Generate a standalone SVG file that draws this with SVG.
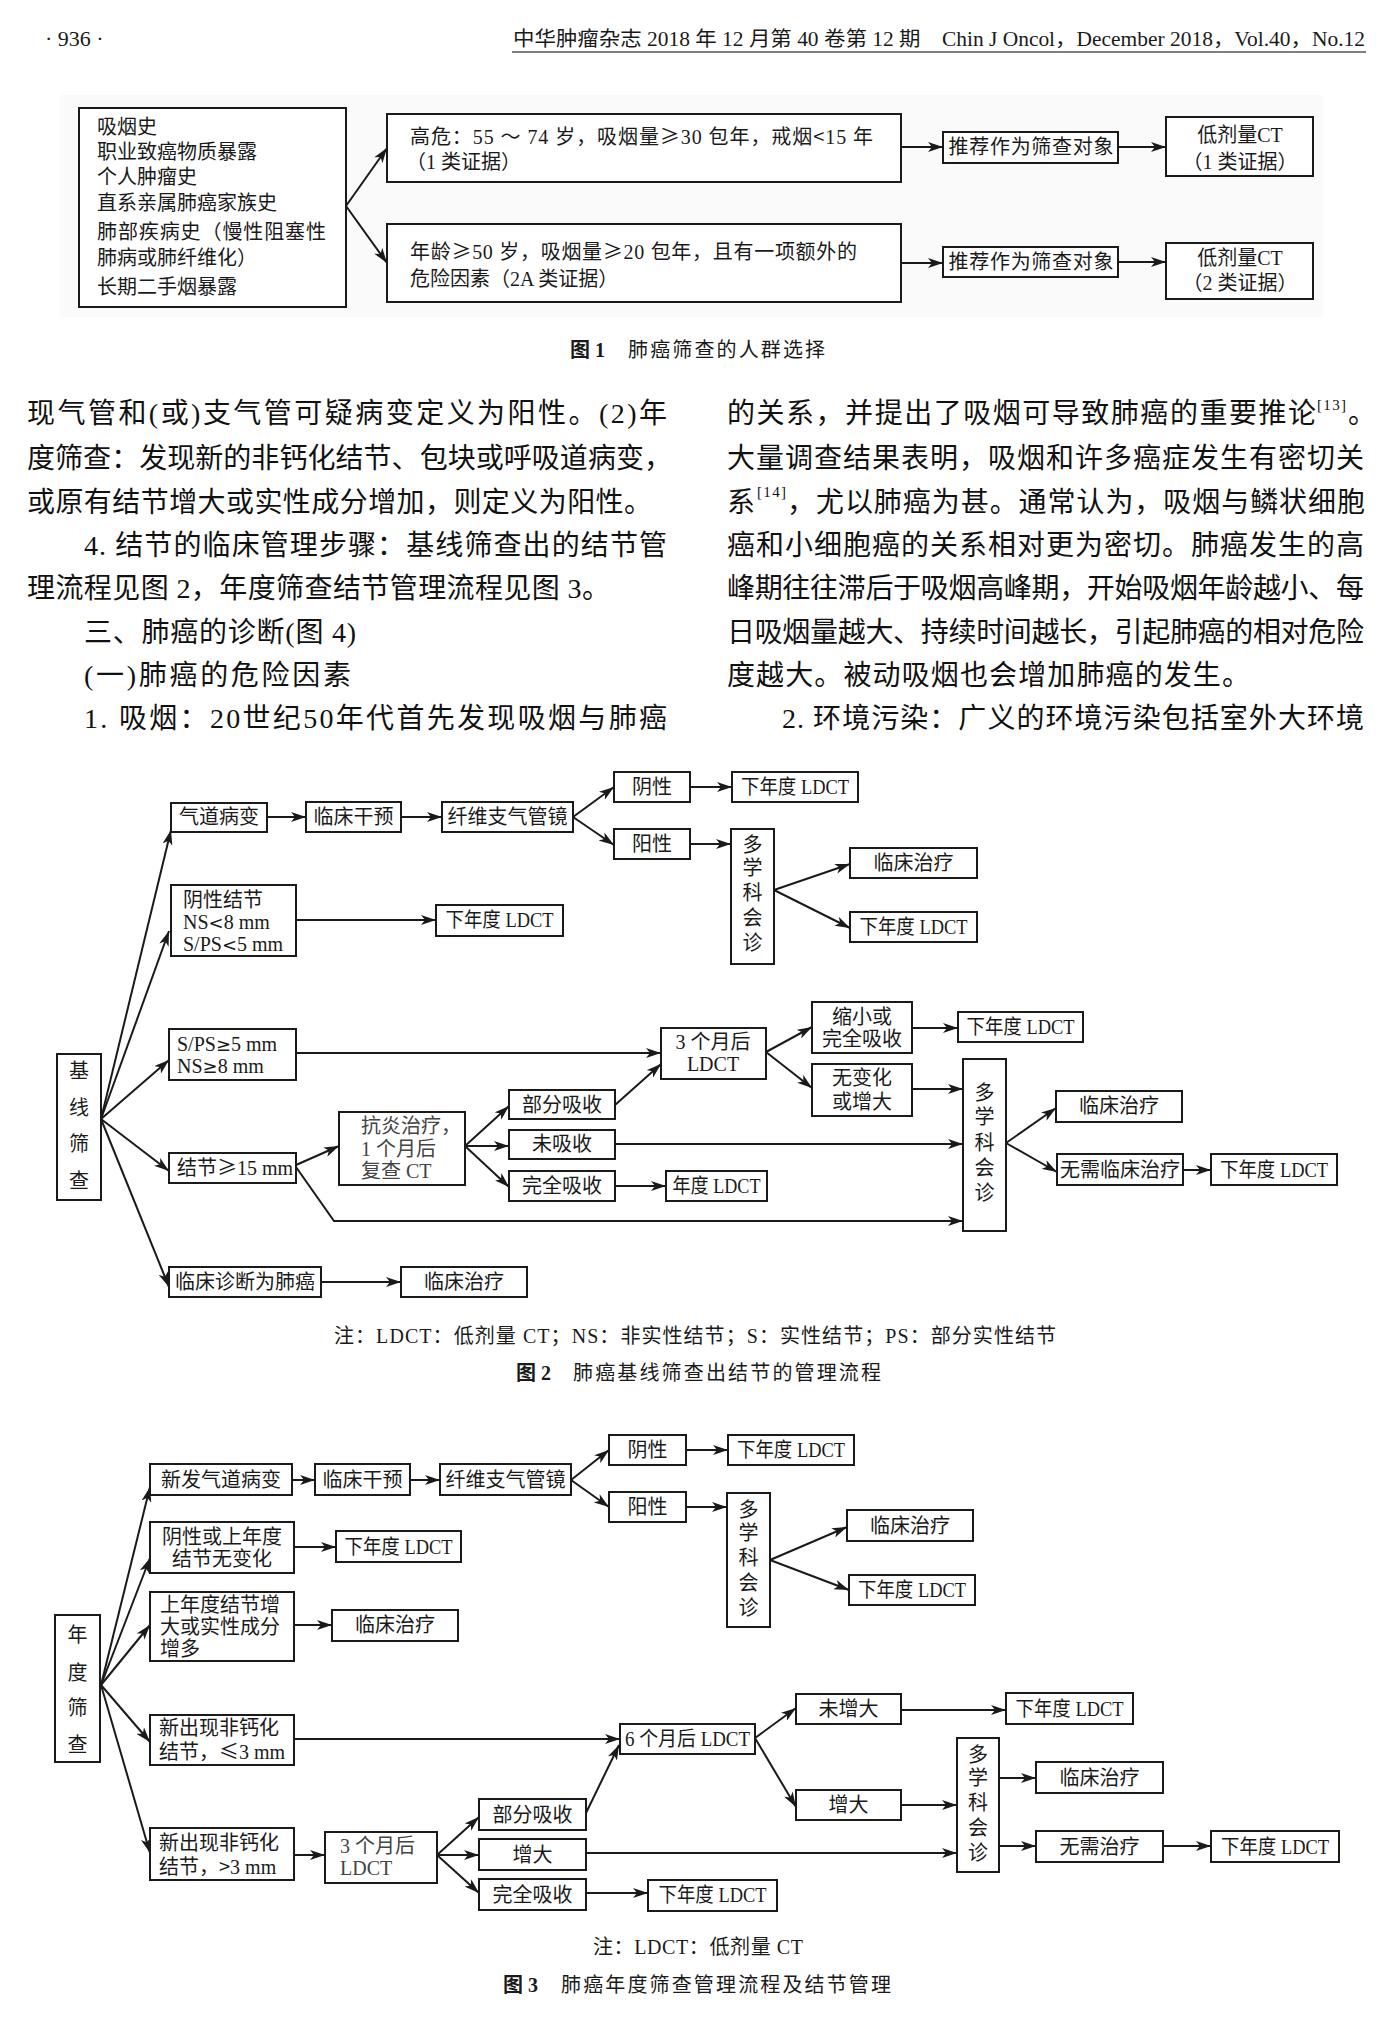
<svg xmlns="http://www.w3.org/2000/svg" width="1394" height="2032" viewBox="0 0 1394 2032">
<defs>
<marker id="ah" markerUnits="userSpaceOnUse" markerWidth="16" markerHeight="10" refX="15" refY="5" orient="auto"><path d="M0,0 L15,5 L0,10 L4,5 Z" fill="#1a1a1a"/></marker>
</defs>
<style>
.bx{fill:#fff;stroke:#1a1a1a;stroke-width:2}
.c{fill:none;stroke:#1a1a1a;stroke-width:2;marker-end:url(#ah)}
.t{font-family:'Liberation Serif','Noto Sans CJK SC',serif;font-size:20px;fill:#1a1a1a}
.cj{font-family:'Noto Sans CJK SC',sans-serif}
.sy{font-family:'DejaVu Sans',sans-serif;font-size:18px}
.m{text-anchor:middle}
.g{fill:#444}
.bd{font-family:'Liberation Serif','Noto Sans CJK SC',serif;font-size:28px;fill:#111}
.sup{font-family:'Liberation Serif','Noto Sans CJK SC',serif;font-size:15px;fill:#111}
.bold{font-weight:bold}
</style>
<rect width="1394" height="2032" fill="#fff"/>

<g id="header">
<text class="t" x="45" y="46" style="font-size:22px">· 936 ·</text>
<text class="t" x="513" y="46" textLength="852" lengthAdjust="spacingAndGlyphs">中华肿瘤杂志 2018 年 12 月第 40 卷第 12 期　Chin J Oncol，December 2018，Vol.40，No.12</text>
<line x1="512" y1="52" x2="1366" y2="52" stroke="#555" stroke-width="1.5"/>
</g>

<rect x="60" y="95" width="1263" height="222" fill="#fafafa"/>

<g id="fig1">
<g id="f1_risk"><rect class="bx" x="79" y="108" width="267" height="199"/>
<text class="t" x="97" y="134">吸烟史</text>
<text class="t" x="97" y="159">职业致癌物质暴露</text>
<text class="t" x="97" y="184">个人肿瘤史</text>
<text class="t" x="97" y="210">直系亲属肺癌家族史</text>
<text class="t" x="97" y="239" textLength="229">肺部疾病史（慢性阻塞性</text>
<text class="t" x="97" y="265">肺病或肺纤维化）</text>
<text class="t" x="97" y="294">长期二手烟暴露</text></g>
<g id="f1_high"><rect class="bx" x="387" y="114" width="514" height="68"/>
<text class="t" x="410" y="144" textLength="463">高危：55 ～ 74 岁，吸烟量<tspan class="cj">≥</tspan>30 包年，戒烟<tspan class="cj">&lt;</tspan>15 年</text>
<text class="t" x="406" y="169">（1 类证据）</text></g>
<g id="f1_mid"><rect class="bx" x="387" y="224" width="514" height="78"/>
<text class="t" x="410" y="259" textLength="447">年龄<tspan class="cj">≥</tspan>50 岁，吸烟量<tspan class="cj">≥</tspan>20 包年，且有一项额外的</text>
<text class="t" x="410" y="286">危险因素（2A 类证据）</text></g>
<g id="f1_rec1"><rect class="bx" x="943" y="132" width="175" height="31"/>
<text class="t m" x="1031" y="154" textLength="165">推荐作为筛查对象</text></g>
<g id="f1_rec2"><rect class="bx" x="943" y="247" width="175" height="30"/>
<text class="t m" x="1031" y="269" textLength="165">推荐作为筛查对象</text></g>
<g id="f1_ct1"><rect class="bx" x="1166" y="117" width="147" height="59"/>
<text class="t m" x="1240" y="142">低剂量CT</text>
<text class="t m" x="1240" y="169">（1 类证据）</text></g>
<g id="f1_ct2"><rect class="bx" x="1166" y="243" width="147" height="56"/>
<text class="t m" x="1240" y="265">低剂量CT</text>
<text class="t m" x="1240" y="290">（2 类证据）</text></g>
<g id="f1_conn">
<path class="c" d="M346,206 L387,148"/>
<path class="c" d="M346,206 L387,263"/>
<path class="c" d="M901,147 L943,147"/>
<path class="c" d="M1118,147 L1166,147"/>
<path class="c" d="M901,263 L943,263"/>
<path class="c" d="M1118,262 L1166,262"/>
</g>
<text class="t" x="570" y="357"><tspan class="bold">图 1</tspan></text>
<text class="t" x="628" y="357" textLength="197">肺癌筛查的人群选择</text>
</g>

<g id="bodytext">
<text class="bd" x="27" y="423" textLength="640">现气管和(或)支气管可疑病变定义为阳性。(2)年</text>
<text class="bd" x="27" y="468" textLength="645">度筛查：发现新的非钙化结节、包块或呼吸道病变，</text>
<text class="bd" x="27" y="512" textLength="625">或原有结节增大或实性成分增加，则定义为阳性。</text>
<text class="bd" x="84" y="555" textLength="583">4. 结节的临床管理步骤：基线筛查出的结节管</text>
<text class="bd" x="27" y="598" textLength="583">理流程见图 2，年度筛查结节管理流程见图 3。</text>
<text class="bd" x="84" y="642" textLength="272">三、肺癌的诊断(图 4)</text>
<text class="bd" x="84" y="685" textLength="267">(一)肺癌的危险因素</text>
<text class="bd" x="84" y="728" textLength="583">1. 吸烟：20世纪50年代首先发现吸烟与肺癌</text>

<text class="bd" x="727" y="423" textLength="589">的关系，并提出了吸烟可导致肺癌的重要推论</text>
<text class="sup" x="1317" y="410" textLength="29">[13]</text>
<text class="bd" x="1348" y="423">。</text>
<text class="bd" x="727" y="468" textLength="637">大量调查结果表明，吸烟和许多癌症发生有密切关</text>
<text class="bd" x="727" y="512">系</text>
<text class="sup" x="757" y="497" textLength="29">[14]</text>
<text class="bd" x="787" y="512" textLength="578">，尤以肺癌为甚。通常认为，吸烟与鳞状细胞</text>
<text class="bd" x="727" y="555" textLength="637">癌和小细胞癌的关系相对更为密切。肺癌发生的高</text>
<text class="bd" x="727" y="598" textLength="637">峰期往往滞后于吸烟高峰期，开始吸烟年龄越小、每</text>
<text class="bd" x="727" y="642" textLength="637">日吸烟量越大、持续时间越长，引起肺癌的相对危险</text>
<text class="bd" x="727" y="685" textLength="523">度越大。被动吸烟也会增加肺癌的发生。</text>
<text class="bd" x="782" y="728" textLength="582">2. 环境污染：广义的环境污染包括室外大环境</text>
</g>

<g id="fig2">
<g id="f2_conn">
<path class="c" d="M101,1119 L171,830"/>
<path class="c" d="M101,1119 L169,931"/>
<path class="c" d="M101,1119 L169,1060"/>
<path class="c" d="M101,1119 L169,1171"/>
<path class="c" d="M101,1119 L169,1287"/>
<path class="c" d="M267,817 L306,817"/>
<path class="c" d="M401,817 L442,817"/>
<path class="c" d="M573,817 L614,787"/>
<path class="c" d="M573,817 L614,845"/>
<path class="c" d="M690,787 L732,787"/>
<path class="c" d="M690,844 L731,844"/>
<path class="c" d="M774,890 L850,864"/>
<path class="c" d="M774,890 L850,928"/>
<path class="c" d="M296,920 L436,920"/>
<path class="c" d="M296,1053 L661,1053"/>
<path class="c" d="M296,1165 L339,1146"/>
<path class="c" d="M296,1167 L334,1221 L963,1221"/>
<path class="c" d="M465,1146 L509,1106"/>
<path class="c" d="M465,1146 L509,1146"/>
<path class="c" d="M465,1146 L509,1187"/>
<path class="c" d="M615,1105 L661,1064"/>
<path class="c" d="M615,1144 L963,1144"/>
<path class="c" d="M615,1186 L666,1186"/>
<path class="c" d="M766,1052 L812,1027"/>
<path class="c" d="M766,1052 L812,1088"/>
<path class="c" d="M912,1028 L958,1028"/>
<path class="c" d="M912,1089 L963,1089"/>
<path class="c" d="M1006,1143 L1056,1108"/>
<path class="c" d="M1006,1143 L1057,1172"/>
<path class="c" d="M1183,1170 L1211,1170"/>
<path class="c" d="M321,1282 L401,1282"/>
</g>
<g id="f2_base"><rect class="bx" x="57" y="1054" width="44" height="146"/>
<text class="t m"><tspan x="79" y="1078">基</tspan><tspan x="79" y="1115">线</tspan><tspan x="79" y="1151">筛</tspan><tspan x="79" y="1188">查</tspan></text></g>
<g id="f2_airway"><rect class="bx" x="171" y="803" width="96" height="29"/><text class="t m" x="219" y="824">气道病变</text></g>
<g id="f2_interv"><rect class="bx" x="306" y="802" width="95" height="30"/><text class="t m" x="353.5" y="824">临床干预</text></g>
<g id="f2_bronch"><rect class="bx" x="442" y="802" width="131" height="30"/><text class="t m" x="507.5" y="824">纤维支气管镜</text></g>
<g id="f2_neg"><rect class="bx" x="614" y="772" width="76" height="30"/><text class="t m" x="652" y="794">阴性</text></g>
<g id="f2_ldct0"><rect class="bx" x="732" y="772" width="126" height="30"/><text class="t m" x="795" y="794" textLength="108" lengthAdjust="spacingAndGlyphs">下年度 LDCT</text></g>
<g id="f2_pos"><rect class="bx" x="614" y="829" width="76" height="30"/><text class="t m" x="652" y="851">阳性</text></g>
<g id="f2_mdt1"><rect class="bx" x="731" y="829" width="43" height="135"/>
<text class="t m"><tspan x="752.5" y="852">多</tspan><tspan x="752.5" y="875">学</tspan><tspan x="752.5" y="900">科</tspan><tspan x="752.5" y="925">会</tspan><tspan x="752.5" y="950">诊</tspan></text></g>
<g id="f2_treat0"><rect class="bx" x="850" y="848" width="127" height="30"/><text class="t m" x="913.5" y="870">临床治疗</text></g>
<g id="f2_ldct00"><rect class="bx" x="850" y="912" width="127" height="30"/><text class="t m" x="913.5" y="934" textLength="108" lengthAdjust="spacingAndGlyphs">下年度 LDCT</text></g>
<g id="f2_negnod"><rect class="bx" x="171" y="885" width="125" height="71"/>
<text class="t" x="183" y="907">阴性结节</text>
<text class="t" x="183" y="929">NS<tspan class="sy">&lt;</tspan>8 mm</text>
<text class="t" x="183" y="951">S/PS<tspan class="sy">&lt;</tspan>5 mm</text></g>
<g id="f2_ldct1"><rect class="bx" x="436" y="905" width="127" height="31"/><text class="t m" x="499.5" y="927" textLength="108" lengthAdjust="spacingAndGlyphs">下年度 LDCT</text></g>
<g id="f2_sps"><rect class="bx" x="169" y="1029" width="127" height="51"/>
<text class="t" x="177" y="1051">S/PS<tspan class="sy">≥</tspan>5 mm</text>
<text class="t" x="177" y="1073">NS<tspan class="sy">≥</tspan>8 mm</text></g>
<g id="f2_3m"><rect class="bx" x="661" y="1028" width="105" height="51"/>
<text class="t m" x="713" y="1049">3 个月后</text>
<text class="t m" x="713" y="1071">LDCT</text></g>
<g id="f2_shrink"><rect class="bx" x="812" y="1002" width="100" height="51"/>
<text class="t m" x="862" y="1024">缩小或</text>
<text class="t m" x="862" y="1046">完全吸收</text></g>
<g id="f2_ldct2"><rect class="bx" x="958" y="1012" width="125" height="30"/><text class="t m" x="1020.5" y="1034" textLength="108" lengthAdjust="spacingAndGlyphs">下年度 LDCT</text></g>
<g id="f2_nochg"><rect class="bx" x="812" y="1064" width="100" height="52"/>
<text class="t m" x="862" y="1085">无变化</text>
<text class="t m" x="862" y="1109">或增大</text></g>
<g id="f2_n15"><rect class="bx" x="169" y="1153" width="127" height="30"/><text class="t" x="177" y="1175">结节<tspan class="cj">≥</tspan>15 mm</text></g>
<g id="f2_anti"><rect class="bx" x="339" y="1112" width="126" height="73"/>
<text class="t g" x="361" y="1133">抗炎治疗，</text>
<text class="t g" x="361" y="1156">1 个月后</text>
<text class="t g" x="361" y="1178">复查 CT</text></g>
<g id="f2_part"><rect class="bx" x="509" y="1090" width="106" height="29"/><text class="t m" x="562" y="1112">部分吸收</text></g>
<g id="f2_none"><rect class="bx" x="509" y="1130" width="106" height="29"/><text class="t m" x="562" y="1151">未吸收</text></g>
<g id="f2_full"><rect class="bx" x="509" y="1171" width="106" height="30"/><text class="t m" x="562" y="1193">完全吸收</text></g>
<g id="f2_yldct"><rect class="bx" x="666" y="1171" width="101" height="30"/><text class="t m" x="716.5" y="1193" textLength="88" lengthAdjust="spacingAndGlyphs">年度 LDCT</text></g>
<g id="f2_mdt2"><rect class="bx" x="963" y="1059" width="43" height="172"/>
<text class="t m"><tspan x="984.5" y="1100">多</tspan><tspan x="984.5" y="1124">学</tspan><tspan x="984.5" y="1150">科</tspan><tspan x="984.5" y="1175">会</tspan><tspan x="984.5" y="1200">诊</tspan></text></g>
<g id="f2_treat2"><rect class="bx" x="1056" y="1091" width="126" height="31"/><text class="t m" x="1119" y="1113">临床治疗</text></g>
<g id="f2_notreat"><rect class="bx" x="1057" y="1154" width="126" height="31"/><text class="t m" x="1120" y="1177">无需临床治疗</text></g>
<g id="f2_ldct3"><rect class="bx" x="1211" y="1154" width="126" height="31"/><text class="t m" x="1274" y="1177" textLength="108" lengthAdjust="spacingAndGlyphs">下年度 LDCT</text></g>
<g id="f2_dx"><rect class="bx" x="169" y="1267" width="152" height="30"/><text class="t m" x="245" y="1289">临床诊断为肺癌</text></g>
<g id="f2_treat1"><rect class="bx" x="401" y="1267" width="126" height="30"/><text class="t m" x="464" y="1289">临床治疗</text></g>
<text class="t" x="334" y="1343" textLength="722">注：LDCT：低剂量 CT；NS：非实性结节；S：实性结节；PS：部分实性结节</text>
<text class="t bold" x="516" y="1380">图 2</text>
<text class="t" x="573" y="1380" textLength="308">肺癌基线筛查出结节的管理流程</text>
</g>

<g id="fig3">
<g id="f3_conn">
<path class="c" d="M101,1685 L150,1487"/>
<path class="c" d="M101,1685 L150,1558"/>
<path class="c" d="M101,1685 L150,1625"/>
<path class="c" d="M101,1685 L150,1742"/>
<path class="c" d="M101,1685 L150,1853"/>
<path class="c" d="M292,1480 L315,1480"/>
<path class="c" d="M410,1480 L440,1480"/>
<path class="c" d="M571,1480 L609,1450"/>
<path class="c" d="M571,1480 L609,1507"/>
<path class="c" d="M686,1450 L728,1450"/>
<path class="c" d="M686,1507 L727,1507"/>
<path class="c" d="M770,1560 L847,1527"/>
<path class="c" d="M770,1560 L849,1590"/>
<path class="c" d="M294,1547 L336,1547"/>
<path class="c" d="M294,1625 L332,1625"/>
<path class="c" d="M294,1739 L620,1739"/>
<path class="c" d="M294,1855 L325,1855"/>
<path class="c" d="M437,1855 L479,1817"/>
<path class="c" d="M437,1855 L479,1855"/>
<path class="c" d="M437,1855 L479,1893"/>
<path class="c" d="M586,1813 L619,1745"/>
<path class="c" d="M755,1738 L796,1708"/>
<path class="c" d="M755,1738 L796,1807"/>
<path class="c" d="M901,1710 L1006,1710"/>
<path class="c" d="M901,1805 L957,1805"/>
<path class="c" d="M586,1853 L957,1853"/>
<path class="c" d="M586,1893 L648,1893"/>
<path class="c" d="M999,1778 L1036,1778"/>
<path class="c" d="M999,1846 L1036,1846"/>
<path class="c" d="M1163,1846 L1211,1846"/>
</g>
<g id="f3_base"><rect class="bx" x="55" y="1615" width="45" height="147"/>
<text class="t m"><tspan x="77.5" y="1642">年</tspan><tspan x="77.5" y="1680">度</tspan><tspan x="77.5" y="1715">筛</tspan><tspan x="77.5" y="1752">查</tspan></text></g>
<g id="f3_airway"><rect class="bx" x="150" y="1464" width="142" height="31"/><text class="t m" x="221" y="1487">新发气道病变</text></g>
<g id="f3_interv"><rect class="bx" x="315" y="1464" width="95" height="31"/><text class="t m" x="362.5" y="1487">临床干预</text></g>
<g id="f3_bronch"><rect class="bx" x="440" y="1464" width="131" height="31"/><text class="t m" x="505.5" y="1487">纤维支气管镜</text></g>
<g id="f3_neg"><rect class="bx" x="609" y="1435" width="77" height="30"/><text class="t m" x="647.5" y="1457">阴性</text></g>
<g id="f3_ldct0"><rect class="bx" x="728" y="1435" width="126" height="30"/><text class="t m" x="791" y="1457" textLength="108" lengthAdjust="spacingAndGlyphs">下年度 LDCT</text></g>
<g id="f3_pos"><rect class="bx" x="609" y="1492" width="77" height="30"/><text class="t m" x="647.5" y="1514">阳性</text></g>
<g id="f3_mdt1"><rect class="bx" x="727" y="1493" width="43" height="134"/>
<text class="t m"><tspan x="748.5" y="1517">多</tspan><tspan x="748.5" y="1540">学</tspan><tspan x="748.5" y="1565">科</tspan><tspan x="748.5" y="1590">会</tspan><tspan x="748.5" y="1615">诊</tspan></text></g>
<g id="f3_treat0"><rect class="bx" x="847" y="1510" width="126" height="31"/><text class="t m" x="910" y="1533">临床治疗</text></g>
<g id="f3_ldct00"><rect class="bx" x="849" y="1575" width="126" height="30"/><text class="t m" x="912" y="1597" textLength="108" lengthAdjust="spacingAndGlyphs">下年度 LDCT</text></g>
<g id="f3_negprev"><rect class="bx" x="150" y="1522" width="144" height="51"/>
<text class="t m" x="222" y="1544">阴性或上年度</text>
<text class="t m" x="222" y="1566">结节无变化</text></g>
<g id="f3_ldct1"><rect class="bx" x="336" y="1531" width="125" height="31"/><text class="t m" x="398.5" y="1554" textLength="108" lengthAdjust="spacingAndGlyphs">下年度 LDCT</text></g>
<g id="f3_grow"><rect class="bx" x="150" y="1592" width="144" height="69"/>
<text class="t" x="160" y="1612">上年度结节增</text>
<text class="t" x="160" y="1634">大或实性成分</text>
<text class="t" x="160" y="1656">增多</text></g>
<g id="f3_treat1"><rect class="bx" x="332" y="1610" width="126" height="31"/><text class="t m" x="395" y="1632">临床治疗</text></g>
<g id="f3_le3"><rect class="bx" x="150" y="1715" width="144" height="50"/>
<text class="t" x="159" y="1735">新出现非钙化</text>
<text class="t" x="159" y="1759">结节，<tspan class="cj">≤</tspan>3 mm</text></g>
<g id="f3_6m"><rect class="bx" x="620" y="1724" width="135" height="30"/><text class="t m" x="687.5" y="1746" textLength="125" lengthAdjust="spacingAndGlyphs">6 个月后 LDCT</text></g>
<g id="f3_nogrow"><rect class="bx" x="796" y="1694" width="105" height="30"/><text class="t m" x="848.5" y="1716">未增大</text></g>
<g id="f3_ldct2"><rect class="bx" x="1006" y="1693" width="127" height="31"/><text class="t m" x="1069.5" y="1716" textLength="108" lengthAdjust="spacingAndGlyphs">下年度 LDCT</text></g>
<g id="f3_grow2"><rect class="bx" x="796" y="1790" width="105" height="30"/><text class="t m" x="848.5" y="1812">增大</text></g>
<g id="f3_gt3"><rect class="bx" x="150" y="1828" width="144" height="52"/>
<text class="t" x="159" y="1850">新出现非钙化</text>
<text class="t" x="159" y="1874">结节，<tspan class="cj">&gt;</tspan>3 mm</text></g>
<g id="f3_3m"><rect class="bx" x="325" y="1832" width="112" height="51"/>
<text class="t g" x="340" y="1853">3 个月后</text>
<text class="t g" x="340" y="1875">LDCT</text></g>
<g id="f3_part"><rect class="bx" x="479" y="1799" width="107" height="31"/><text class="t m" x="532.5" y="1822">部分吸收</text></g>
<g id="f3_grow3"><rect class="bx" x="479" y="1839" width="107" height="31"/><text class="t m" x="532.5" y="1862">增大</text></g>
<g id="f3_full"><rect class="bx" x="479" y="1879" width="107" height="31"/><text class="t m" x="532.5" y="1902">完全吸收</text></g>
<g id="f3_ldct3"><rect class="bx" x="648" y="1880" width="129" height="31"/><text class="t m" x="712.5" y="1902" textLength="108" lengthAdjust="spacingAndGlyphs">下年度 LDCT</text></g>
<g id="f3_mdt2"><rect class="bx" x="957" y="1738" width="42" height="134"/>
<text class="t m"><tspan x="978" y="1762">多</tspan><tspan x="978" y="1785">学</tspan><tspan x="978" y="1810">科</tspan><tspan x="978" y="1835">会</tspan><tspan x="978" y="1860">诊</tspan></text></g>
<g id="f3_treat2"><rect class="bx" x="1036" y="1762" width="127" height="31"/><text class="t m" x="1099.5" y="1785">临床治疗</text></g>
<g id="f3_notreat"><rect class="bx" x="1036" y="1831" width="127" height="31"/><text class="t m" x="1099.5" y="1854">无需治疗</text></g>
<g id="f3_ldct4"><rect class="bx" x="1211" y="1831" width="128" height="31"/><text class="t m" x="1275" y="1854" textLength="108" lengthAdjust="spacingAndGlyphs">下年度 LDCT</text></g>
<text class="t" x="593" y="1954" textLength="210">注：LDCT：低剂量 CT</text>
<text class="t bold" x="503" y="1992">图 3</text>
<text class="t" x="561" y="1992" textLength="330">肺癌年度筛查管理流程及结节管理</text>
</g>
</svg>
